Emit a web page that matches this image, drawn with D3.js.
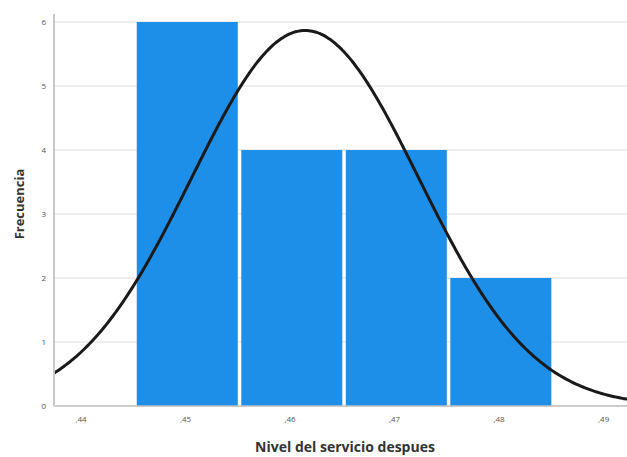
<!DOCTYPE html>
<html>
<head>
<meta charset="utf-8">
<script src="https://cdn.jsdelivr.net/npm/d3@7"></script>
<style>
  html, body { margin: 0; padding: 0; background: #fff; }
  svg { display: block; }
</style>
</head>
<body>
<svg id="chart" width="627" height="457"></svg>
<script>
// Histogram of "Nivel del servicio despues" with a fitted normal curve
const binCenters = [0.45, 0.46, 0.47, 0.48];
const binCounts = [6, 4, 4, 2];
const binWidth = 0.01;
const xTicks = [0.44, 0.45, 0.46, 0.47, 0.48, 0.49];
const yTicks = [0, 1, 2, 3, 4, 5, 6];
const xTitle = "Nivel del servicio despues";
const yTitle = "Frecuencia";

const svg = d3.select("#chart");
const plotLeft = 54, plotRight = 640, plotTop = 22, plotBottom = 406;

const x = d3.scaleLinear().domain([0.44, 0.49]).range([83, 605.6]);
const y = d3.scaleLinear().domain([0, 6]).range([plotBottom, plotTop]);

const fmt = v => "," + d3.format(".2f")(v).split(".")[1];

// horizontal grid lines
svg.append("g").selectAll("line")
  .data(yTicks.filter(d => d > 0))
  .join("line")
  .attr("x1", plotLeft).attr("x2", plotRight)
  .attr("y1", d => y(d)).attr("y2", d => y(d))
  .attr("stroke", "#dedede").attr("stroke-width", 1.2);

// bars
svg.append("g").selectAll("rect")
  .data(binCenters.map((c, i) => ({ c, n: binCounts[i] })))
  .join("rect")
  .attr("x", d => x(d.c - binWidth / 2) + 1.5)
  .attr("width", d => x(d.c + binWidth / 2) - x(d.c - binWidth / 2) - 3.5)
  .attr("y", d => y(d.n))
  .attr("height", d => y(0) - y(d.n))
  .attr("fill", "#1e8fe8");

// normal curve from sample mean and standard deviation
const values = binCenters.flatMap((c, i) => d3.range(binCounts[i]).map(() => c));
const N = values.length;
const mu = d3.mean(values);
const sd = d3.deviation(values);
const dens = v => N * binWidth / (sd * Math.sqrt(2 * Math.PI)) * Math.exp(-0.5 * ((v - mu) / sd) ** 2);
const xs = d3.range(x.invert(plotLeft), x.invert(627) + 0.0005, 0.0002);
svg.append("path")
  .datum(xs)
  .attr("fill", "none")
  .attr("stroke", "#1a1a1a")
  .attr("stroke-width", 3)
  .attr("d", d3.line().x(d => x(d)).y(d => y(dens(d))).curve(d3.curveBasis));

// axis lines
svg.append("line")
  .attr("x1", plotLeft).attr("x2", plotRight).attr("y1", plotBottom).attr("y2", plotBottom)
  .attr("stroke", "#bdbdbd").attr("stroke-width", 1.5);
svg.append("line")
  .attr("x1", plotLeft).attr("x2", plotLeft).attr("y1", 14).attr("y2", plotBottom)
  .attr("stroke", "#c8c8c8").attr("stroke-width", 2);

// tick labels
svg.append("g").selectAll("text")
  .data(yTicks).join("text")
  .attr("x", 46).attr("y", d => y(d) + 3)
  .attr("text-anchor", "end")
  .attr("font-family", "'Open Sans', sans-serif")
  .attr("font-size", 8).attr("fill", "#555")
  .text(d => d);

svg.append("g").selectAll("text")
  .data(xTicks).join("text")
  .attr("x", d => x(d) - 2).attr("y", 422)
  .attr("text-anchor", "middle")
  .attr("font-family", "'Open Sans', sans-serif")
  .attr("font-size", 8).attr("fill", "#555")
  .text(fmt);

// axis titles
svg.append("text")
  .attr("x", 345).attr("y", 452)
  .attr("text-anchor", "middle")
  .attr("font-family", "'Open Sans', sans-serif")
  .attr("font-weight", "bold").attr("font-size", 14).attr("fill", "#333")
  .text(xTitle);

svg.append("text")
  .attr("transform", "translate(24,204) rotate(-90)")
  .attr("text-anchor", "middle")
  .attr("font-family", "'Open Sans', sans-serif")
  .attr("font-weight", "bold").attr("font-size", 13).attr("fill", "#333")
  .text(yTitle);
</script>
</body>
</html>
